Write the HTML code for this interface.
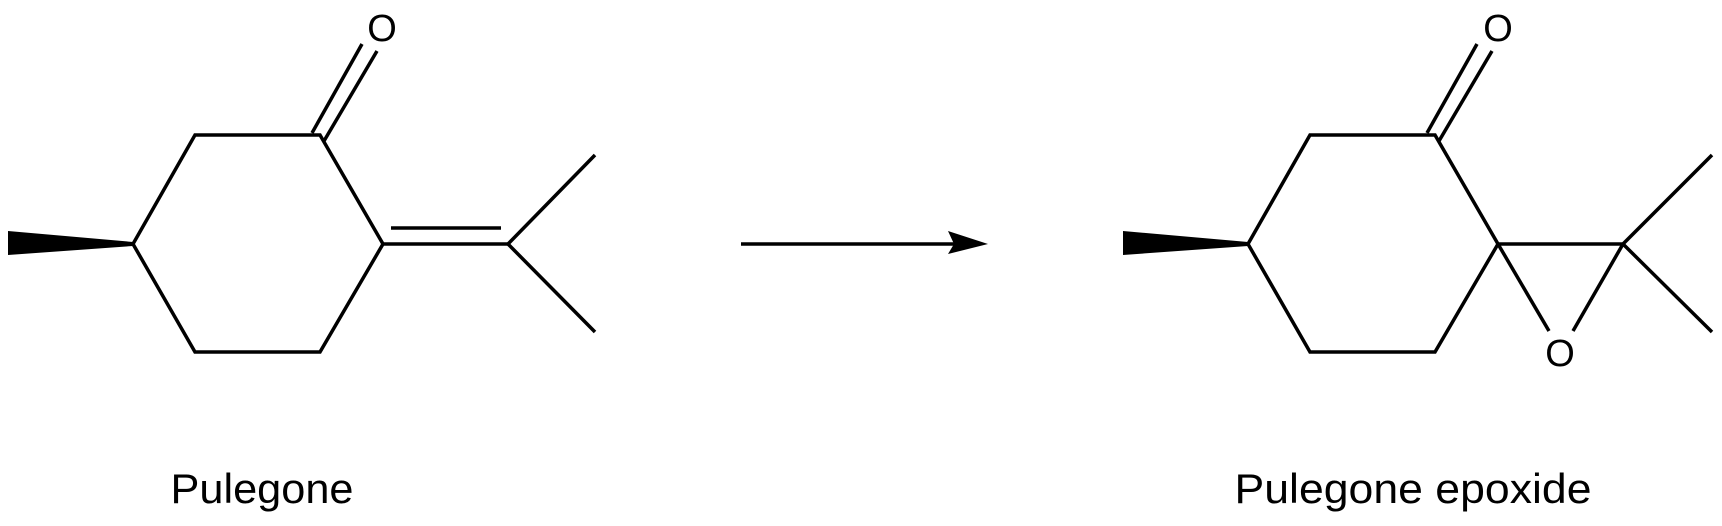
<!DOCTYPE html>
<html><head><meta charset="utf-8"><style>html,body{margin:0;padding:0;background:#fff}svg{display:block}</style></head>
<body>
<svg width="1722" height="526" viewBox="0 0 1722 526" xmlns="http://www.w3.org/2000/svg">
<g stroke="#000" stroke-width="3.5" fill="none" stroke-linecap="butt">
<!-- left molecule -->
<polygon points="133,244 195,135 320,135 383,244 320,352 195,352"/>
<line x1="312" y1="133" x2="362" y2="44"/>
<line x1="324" y1="141" x2="377" y2="51"/>
<line x1="383" y1="244" x2="508" y2="244"/>
<line x1="391" y1="228" x2="501" y2="228"/>
<line x1="508" y1="244" x2="595" y2="155"/>
<line x1="508" y1="244" x2="595" y2="332"/>
<!-- arrow -->
<line x1="741" y1="244" x2="955" y2="244"/>
<!-- right molecule -->
<polygon points="1248,244 1310,135 1435,135 1498,244 1435,352 1310,352"/>
<line x1="1427" y1="133" x2="1477" y2="44"/>
<line x1="1439" y1="141" x2="1492" y2="51"/>
<line x1="1498" y1="244" x2="1623" y2="244"/>
<line x1="1498" y1="244" x2="1549" y2="331"/>
<line x1="1623" y1="244" x2="1573" y2="331"/>
<line x1="1623" y1="244" x2="1712" y2="155"/>
<line x1="1623" y1="244" x2="1712" y2="332"/>
</g>
<polygon points="8,231 133,242 133,246 8,255" fill="#000"/>
<polygon points="1123,231 1248,242 1248,246 1123,255" fill="#000"/>
<polygon points="988,244 948,231 954,244 948,254" fill="#000"/>
<g font-family="Liberation Sans, sans-serif" fill="#000" text-anchor="middle">
<text x="382" y="41" font-size="38">O</text>
<text x="1498" y="41" font-size="38">O</text>
<text x="1560" y="366" font-size="38">O</text>
<text x="262" y="503" font-size="42" textLength="183" lengthAdjust="spacingAndGlyphs">Pulegone</text>
<text x="1413" y="503" font-size="42" textLength="357" lengthAdjust="spacingAndGlyphs">Pulegone epoxide</text>
</g>
</svg>
</body></html>
